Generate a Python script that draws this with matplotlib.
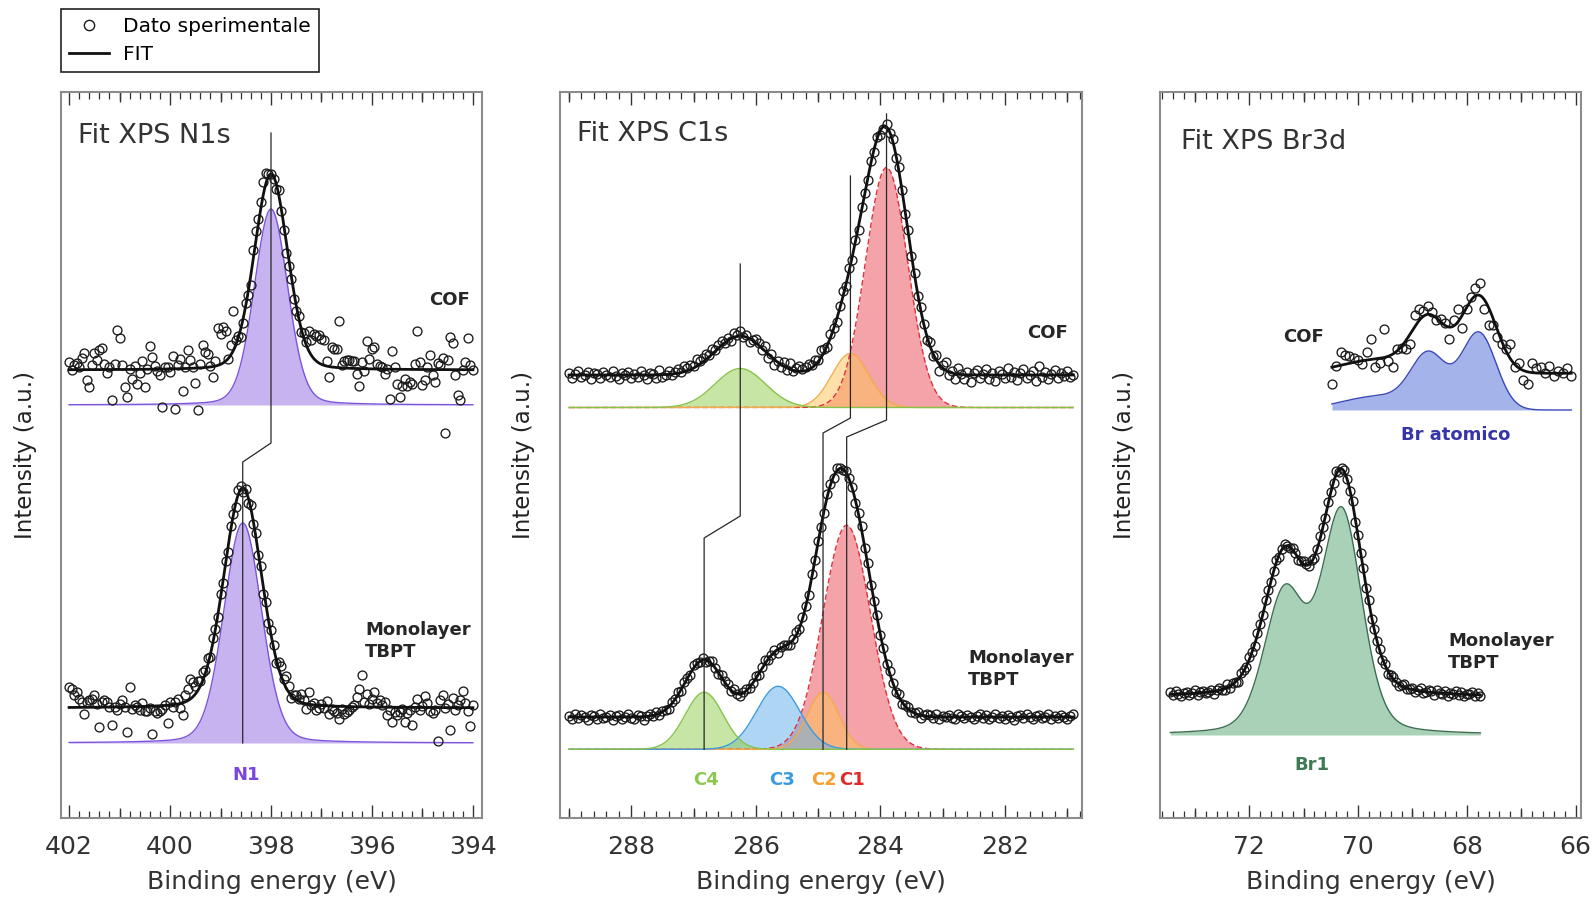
import numpy as np
import matplotlib
matplotlib.use("Agg")
import matplotlib.pyplot as plt
from matplotlib.ticker import MultipleLocator
from matplotlib.lines import Line2D

plt.rcParams['font.family'] = ['DejaVu Sans']

# ======================= DATA =======================
# ---- N1s (index 0 = COF, index 1 = Monolayer TBPT) ----
n1s_x_start, n1s_step = 402.0, 0.05
n1s_center = [398.00, 398.56]
n1s_height = [196, 220]
n1s_fwhm = [0.78, 0.88]
n1s_eta = 0.15
n1s_fit_base = [448, 110]
n1s_comp_base = [413, 75]
n1s_resid_cof = [8, 0, 5, 7, 3, 12, 17, -10, -17, 5,
                 17, 10, 20, 22, 6, -3, 3, -30, 6, 40,
                 32, 4, -18, -28, 0, -10, 3, -15, -4, 8,
                 -18, 0, 23, 12, 3, -2, -6, -38, 2, 2,
                 -3, 13, -40, 4, 10, -22, 2, 18, 8, 1,
                 -15, -42, 4, 23, 15, 13, 1, -10, 5, 37,
                 30, 36, 30, 0, 10, 40, 5, 2, -8, -5,
                 3, -4, -10, 8, 10, 5, 6, 12, 10, 2,
                 0, -3, -6, 4, -3, -6, -12, -8, -4, -8,
                 -5, 2, -3, 5, 3, 20, 15, 25, 25, 28,
                 25, 25, 5, -10, 20, 18, 18, 47, 3, 7,
                 8, 8, 7, 7, -5, -17, 7, -2, 28, 10,
                 20, 22, 5, 3, 2, -5, 0, -30, 18, 2,
                 -15, -28, -17, -10, -17, -13, -15, 5, 38, 7,
                 -15, -10, 3, 15, -5, -12, 7, 5, 12, -63,
                 10, 33, 27, -5, -25, -30, 0, 8, 32, 5, 0]
n1s_resid_mono = [20, 18, 12, 15, 8, 5, -7, 5, 7, 8,
                  12, 3, -20, 5, 7, 5, 0, -18, 0, -3,
                  3, 7, 0, -25, 20, -2, 2, 0, -3, 3,
                  -5, -5, -2, -28, -5, -7, -5, -3, 0, -18,
                  3, -2, 2, 5, -4, -12, 7, 12, 20, 15,
                  8, 10, 5, 8, 3, 6, -3, 4, 0, -3,
                  4, -2, 3, -5, 4, 2, -3, 5, 3, -4,
                  2, -5, 3, -3, 4, -2, 5, -6, 3, -3,
                  5, 2, -4, 6, 10, 4, 12, 6, -3, 3,
                  5, 2, 8, 3, -5, 12, 0, 2, -5, -3,
                  2, -2, 5, -8, -3, -5, -7, -13, -3, -8,
                  -5, -3, 0, 2, 10, 18, 32, 5, 13, 3,
                  8, 15, 4, 7, 2, 5, -8, -3, -15, -5,
                  -8, -5, -2, -15, -6, -3, -18, 0, 8, -3,
                  2, 12, 5, -3, -5, -2, -33, 8, 13, 0,
                  4, -22, 10, -2, 3, 8, 17, 5, -3, -18, 3]
n1s_link_y = [685, 375, 356]

# ---- C1s components: C1, C2, C3, C4 ----
c1s_x_start, c1s_step = 289.0, 0.05
c1s_names = ['C1', 'C2', 'C3', 'C4']
c1s_center_cof = [283.90, 284.48, 285.64, 286.25]
c1s_height_cof = [240, 54, 0, 39]
c1s_fwhm_cof = [0.80, 0.70, 0.78, 0.95]
c1s_center_mono = [284.54, 284.92, 285.64, 286.83]
c1s_height_mono = [224, 57, 63, 57]
c1s_fwhm_mono = [0.90, 0.60, 0.82, 0.72]
c1s_eta = 0.0
c1s_fit_base = [443, 101]
c1s_comp_base = [410.5, 68.7]
c1s_link_top = [704, 642, None, 554]
c1s_link_bend = [[398, 381], [400, 385], None, [302, 280]]
c1s_label_x = [284.46, 284.90, 285.58, 286.80]
c1s_resid_cof = [2, -3, 1, 4, -2, 0, 3, -4, 2, 1, -3, 3, 0, -2, 4, -1, -4, 2, 0, 3,
                 -3, 1, -2, 4, 0, -4, 2, 1, -3, 5, -2, 0, 3, -1, 2,
                 4, 1, 6, 3, 5, 2, 7, 3, 4, 6, 2, 5, 1, 3, 4, 0,
                 3, -2, 4, 1, 5, -1, 2, -3, 1, 4,
                 2, -2, 5, -4, 3, -5, 1, -3, 4, -2, 6, -1, 3, 5, 2,
                 4, 6, 3, 5, 2, 7, 3, -2, 4, 1, -3, 2, 5, -2, 3,
                 -3, 2, -4, 3, 1, -2, 2, -3, 1, -4,
                 -2, 3, -1, 2, -3, 4, 1, -2, 3, -1, 2, -2, 3, 1, -3,
                 4, -2, 5, -6, 3, 8, -3, 2, -5, 6, 1, -4, 3, -7, 2,
                 5, -3, 1, 6, -4, 2, -6, 4, 1, -3, 7, -2, 3, -5, 2, 6,
                 -3, 0, 4, -6, 9, -2, 3, -4, 1, 5, -3, 2, -1, 4, -2, 0]
c1s_resid_mono = [1, -2, 3, -1, 2, 0, -3, 2, 1, -2, 3, -1, 0, 2, -3, 1, 2, -2, 0, 3,
                  -1, -2, 2, 1, -3, 0, 2, -1, 3, -2, 1, 0, -2, 2, 1,
                  3, -1, 2, 0, -2, 3, 1, -1, 2, -2, 1, 3, 0, -1, 2, 1,
                  2, -1, 3, 0, -2, 1, 2, -1, 0, 2,
                  -2, 1, 3, -1, 0, 2, -3, 1, 2, 0, -2, 1, 3, -1, 2,
                  1, -2, 3, 0, 2, -1, -3, 2, 1, -2, 3, 0, -1, 2, 1,
                  2, -3, 1, 4, -1, 2, -2, 0, 3, -1,
                  1, -2, 2, 0, -1, 3, -2, 1, 2, -1, 0, 2, -3, 1, 2,
                  2, -1, 3, -2, 1, 0, 2, -1, -2, 3, 1, -1, 2, 0, -2,
                  1, 3, -1, 2, -2, 0, 3, -1, 1, -2, 2, 0, -3, 1, 2, -1,
                  3, 0, -2, 1, 2, -1, 0, 3, -2, 1, -1, 2, 0, -2, 1, 3]

# ---- Br3d ----
br_cof_x_start, br_cof_step = 70.48, 0.08
br_mono_x_start, br_mono_step = 73.45, 0.05
br_center_cof = [67.78, 68.70, 69.60]
br_height_cof = [77, 52, 14]
br_fwhm_cof = [0.75, 0.75, 1.60]
br_eta_cof = 0.0
br_center_mono = [70.30, 71.35]
br_height_mono = [221, 139]
br_fwhm_mono = [0.88, 0.88]
br_eta_mono = 0.25
br_fit_base = [444.7, 121]
br_comp_base = [408, 83]
br_resid_cof = [-17, 0, 13, 9, 7, 4, 2, -3, 8, 20,
                -8, -5, 29, -5, -13, 2, -2, -8, -10, 12,
                12, 5, 8, 3, -2, 3, 2, -12, 6, 13,
                -13, -2, 3, 8, 12, -10, -18, -7, -7, -3,
                2, 15, -3, 5, -10, -12, 10, 5, 6, 0,
                7, -3, 2, 0, 5, -3]
br_resid_mono = [2, -1, 3, 0, -2, 1, 2, -1, 0, 3,
                 -2, 1, 2, -1, 0, 2, -3, 1, 2, 0,
                 -1, 3, -2, 1, 0, -3, 2, 1, -1, 3,
                 0, -2, 2, 1, -1, 3, 2, -1, 0, 2,
                 -2, 1, 3, 0, -1, 2, 1, -2, 0, 3,
                 1, -1, 2, -2, 0, 3, 1, -2, 2, 0,
                 -1, 3, -2, 1, 2, 0, -1, 2, -3, 1,
                 0, 2, -1, 3, -2, 1, 0, 2, -1, 2,
                 -3, 1, 2, 0, -2, 1, 3, -1, 0, 2,
                 -2, 1, 3, -1, 0, 2, 1, -2, 3, 0,
                 -1, 2, -2, 1, 0, 3, -1, 2, -2, 0,
                 1, 3, -1, 2, -1]

# ======================= STYLE =======================
DARK = '#262626'
MARK = dict(ls='none', marker='o', mfc='none', mec='#1a1a1a', ms=6.4, mew=0.95)
FITLINE = dict(color='#111111', lw=2.0)
c1s_fill = ['#eb4b55', '#ffc355', '#5fafeb', '#91cd4b']
c1s_edge = ['#e0303c', '#f2ab4a', '#3c9be0', '#86c34a']
c1s_txt = ['#e02828', '#f5a030', '#3a9ae0', '#8cc850']


def pv(x, c, h, w, eta):
    d2 = ((x - c) / w) ** 2
    return h * ((1 - eta) * np.exp(-4 * np.log(2) * d2) + eta / (1 + 4 * d2))


def comp_sum(x, centers, heights, fwhms, eta):
    return sum(pv(x, c, h, w, eta) for c, h, w in zip(centers, heights, fwhms))


def setup(ax, xlim, ylab_x):
    ax.set_xlim(*xlim)
    ax.set_ylim(0, 726)
    ax.xaxis.set_major_locator(MultipleLocator(2))
    ax.xaxis.set_minor_locator(MultipleLocator(0.2))
    ax.tick_params(axis='x', which='both', direction='in', top=True, bottom=True,
                   color='#333333', labelsize=18, labelcolor='#333333', pad=12)
    ax.tick_params(axis='x', which='major', length=9.5, width=1.0)
    ax.tick_params(axis='x', which='minor', length=5, width=0.9)
    ax.tick_params(axis='y', left=False, labelleft=False)
    for s in ax.spines.values():
        s.set_color('#8c8c8c')
        s.set_linewidth(1.5)
    lo, hi = min(xlim), max(xlim)
    odd = [v for v in np.arange(np.ceil(lo), np.floor(hi) + 1) if int(v) % 2 == 1]
    tr = ax.get_xaxis_transform()
    L = 10 / 726
    ax.vlines(odd, 0, L, transform=tr, color='#333333', lw=1.0)
    ax.vlines(odd, 1 - L, 1, transform=tr, color='#333333', lw=1.0)
    ax.set_xlabel('Binding energy (eV)', fontsize=18, color='#333333')
    ax.xaxis.set_label_coords(0.5, -0.072)
    ax.set_ylabel('Intensity (a.u.)', fontsize=16.5, color='#222222')
    ax.yaxis.set_label_coords(ylab_x, 0.5)


fig = plt.figure(figsize=(15.93, 9.02), dpi=100)
W, H = 1593, 902
def axpos(l, r, t=92, b=818):
    return [l / W, 1 - b / H, (r - l) / W, (b - t) / H]

ax1 = fig.add_axes(axpos(61, 482))
ax2 = fig.add_axes(axpos(559.7, 1082))
ax3 = fig.add_axes(axpos(1160, 1581))

LBL = dict(fontsize=13, fontweight='bold')

# ---------------- N1s ----------------
setup(ax1, (402.16, 393.82), -0.058)
for k in range(2):
    res = np.array([n1s_resid_cof, n1s_resid_mono][k], float)
    xd = n1s_x_start - n1s_step * np.arange(len(res))
    xf = np.linspace(xd[0], xd[-1], 600)
    peak_f = pv(xf, n1s_center[k], n1s_height[k], n1s_fwhm[k], n1s_eta)
    cb = n1s_comp_base[k]
    ax1.fill_between(xf, cb, cb + peak_f, color='#9169e1', alpha=0.5, lw=0, zorder=1)
    ax1.plot(xf, cb + peak_f, color='#7c55dc', lw=1.0, zorder=2)
    yd = n1s_fit_base[k] + pv(xd, n1s_center[k], n1s_height[k], n1s_fwhm[k], n1s_eta) + res
    ax1.plot(xd, yd, zorder=3, **MARK)
    ax1.plot(xf, n1s_fit_base[k] + peak_f, zorder=4, **FITLINE)
ax1.plot([n1s_center[0], n1s_center[0], n1s_center[1], n1s_center[1]],
         [n1s_link_y[0], n1s_link_y[1], n1s_link_y[2], n1s_comp_base[1]],
         color=DARK, lw=0.9, zorder=5)
ax1.text(0.04, 0.939, 'Fit XPS N1s', transform=ax1.transAxes, fontsize=19.5,
         color='#333333', va='center', ha='left')
ax1.text(394.46, 518, 'COF', color=DARK, ha='center', va='center', **LBL)
ax1.text(396.14, 177, 'Monolayer\nTBPT', color=DARK, ha='left', va='center',
         linespacing=1.25, **LBL)
ax1.text(398.5, 43, 'N1', color='#7b45e0', ha='center', va='center', **LBL)

# ---------------- C1s ----------------
setup(ax2, (289.15, 280.76), -0.048)
spec = [(c1s_center_cof, c1s_height_cof, c1s_fwhm_cof, c1s_resid_cof),
        (c1s_center_mono, c1s_height_mono, c1s_fwhm_mono, c1s_resid_mono)]
for k, (cen, hei, fw, resl) in enumerate(spec):
    res = np.array(resl, float)
    xd = c1s_x_start - c1s_step * np.arange(len(res))
    xf = np.linspace(xd[0], xd[-1], 900)
    cb = c1s_comp_base[k]
    for j in range(4):
        if hei[j] <= 0:
            continue
        p = pv(xf, cen[j], hei[j], fw[j], c1s_eta)
        ax2.fill_between(xf, cb, cb + p, color=c1s_fill[j], alpha=0.5, lw=0, zorder=1)
        ax2.plot(xf, cb + p, color=c1s_edge[j], lw=1.0, zorder=2,
                 ls=(0, (4, 2)) if j == 0 else '-')
    yd = c1s_fit_base[k] + comp_sum(xd, cen, hei, fw, c1s_eta) + res
    ax2.plot(xd, yd, zorder=3, **MARK)
    ax2.plot(xf, c1s_fit_base[k] + comp_sum(xf, cen, hei, fw, c1s_eta), zorder=4, **FITLINE)
for j in range(4):
    if c1s_link_top[j] is None:
        continue
    xc, xm = c1s_center_cof[j], c1s_center_mono[j]
    ax2.plot([xc, xc, xm, xm],
             [c1s_link_top[j], c1s_link_bend[j][0], c1s_link_bend[j][1], c1s_comp_base[1]],
             color=DARK, lw=0.9, zorder=5)
for j in range(4):
    ax2.text(c1s_label_x[j], 38, c1s_names[j], color=c1s_txt[j],
             ha='center', va='center', **LBL)
ax2.text(0.033, 0.942, 'Fit XPS C1s', transform=ax2.transAxes, fontsize=19.5,
         color='#333333', va='center', ha='left')
ax2.text(281.31, 485, 'COF', color=DARK, ha='center', va='center', **LBL)
ax2.text(282.59, 149, 'Monolayer\nTBPT', color=DARK, ha='left', va='center',
         linespacing=1.25, **LBL)

# ---------------- Br3d ----------------
setup(ax3, (73.64, 65.90), -0.058)
br_spec = [(br_center_cof, br_height_cof, br_fwhm_cof, br_eta_cof, br_resid_cof,
            br_cof_x_start, br_cof_step, '#4b69d7', '#3a48b8'),
           (br_center_mono, br_height_mono, br_fwhm_mono, br_eta_mono, br_resid_mono,
            br_mono_x_start, br_mono_step, '#55a573', '#3d6e52')]
for k, (cen, hei, fw, eta, resl, x0, st, fc, ec) in enumerate(br_spec):
    res = np.array(resl, float)
    xd = x0 - st * np.arange(len(res))
    xf = np.linspace(xd[0], xd[-1], 600)
    cb = br_comp_base[k]
    p = comp_sum(xf, cen, hei, fw, eta)
    ax3.fill_between(xf, cb, cb + p, color=fc, alpha=0.5, lw=0, zorder=1)
    ax3.plot(xf, cb + p, color=ec, lw=1.0, zorder=2)
    yd = br_fit_base[k] + comp_sum(xd, cen, hei, fw, eta) + res
    ax3.plot(xd, yd, zorder=3, **MARK)
    ax3.plot(xf, br_fit_base[k] + p, zorder=4, **FITLINE)
ax3.text(0.049, 0.931, 'Fit XPS Br3d', transform=ax3.transAxes, fontsize=19.5,
         color='#333333', va='center', ha='left')
ax3.text(71.01, 480.5, 'COF', color=DARK, ha='center', va='center', **LBL)
ax3.text(68.21, 383.5, 'Br atomico', color='#3535a8', ha='center', va='center', **LBL)
ax3.text(68.34, 166, 'Monolayer\nTBPT', color=DARK, ha='left', va='center',
         linespacing=1.25, **LBL)
ax3.text(70.84, 53, 'Br1', color='#3e7a55', ha='center', va='center', **LBL)

# ---------------- legend ----------------
handles = [Line2D([], [], ls='none', marker='o', mfc='none', mec='#1a1a1a', ms=7.4, mew=1.0),
           Line2D([], [], color='#111111', lw=2.0)]
leg = fig.legend(handles, ['Dato sperimentale', 'FIT'], loc='upper left',
                 bbox_to_anchor=(61 / W, 1 - 9 / H), frameon=True, fancybox=False,
                 edgecolor='#222222', framealpha=1, fontsize=14.5, handlelength=2.0,
                 handletextpad=0.7, labelspacing=0.45, borderpad=0.4, borderaxespad=0)
leg.get_frame().set_linewidth(1.2)

fig.savefig('out.png', dpi=100)
